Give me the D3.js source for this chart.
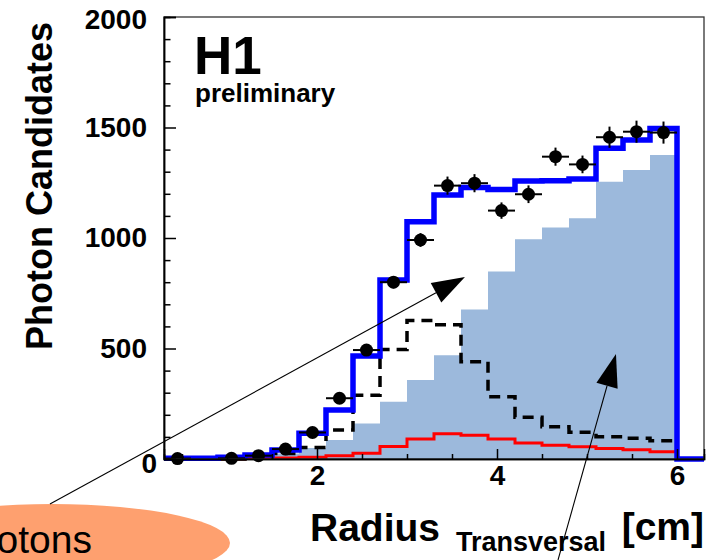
<!DOCTYPE html>
<html>
<head>
<meta charset="utf-8">
<script src="https://cdn.jsdelivr.net/npm/d3@7"></script>
<style>
  html, body { margin: 0; padding: 0; background: #fff; overflow: hidden; }
  svg { display: block; font-family: "Liberation Sans", Arial, Helvetica, sans-serif; }
</style>
</head>
<body>
<svg id="chart" width="711" height="560"></svg>
<script>
// ---- histogram binning: transverse radius [cm] ----
const binEdges = [0.3, 0.6, 0.9, 1.2, 1.5, 1.8, 2.1, 2.4, 2.7, 3.0, 3.3,
                  3.6, 3.9, 4.2, 4.5, 4.8, 5.1, 5.4, 5.7, 6.0, 6.3];

// measured photon candidates per bin (null = empty bin)
const dataCounts = [2, null, 3, 15, 45, 120, 275, 493, 800, 991, 1237,
                    1248, 1124, 1198, 1368, 1333, 1456, 1481, 1477, null];
const dataErrors = [2, null, 2, 4, 7, 11, 17, 22, 28, 31, 41,
                    41, 37, 40, 41, 40, 48, 50, 50, null];

// simulation: total (thick blue outline)
const simTotal = [3, 3, 8, 18, 41, 116, 222, 466, 810, 1074, 1195,
                  1229, 1220, 1258, 1259, 1267, 1406, 1443, 1496, 0];
// simulation component: filled light blue
const simFilled = [0, 0, 3, 10, 25, 50, 86, 161, 259, 357, 470,
                   677, 848, 994, 1048, 1089, 1255, 1308, 1376, 0];
// simulation component: dashed black
const simDashed = [0, 0, 0, 5, 25, 52, 131, 288, 495, 627, 607,
                   440, 282, 189, 146, 121, 101, 94, 83, 0];
// simulation component: red outline
const simRed = [0, 0, 0, 2, 4, 8, 15, 26, 56, 90, 114,
                107, 90, 72, 62, 55, 47, 42, 33, 0];

// axis ticks
const xTicks = [2, 4, 6];
const xMinorTicks = [0.5, 1, 1.5, 2.5, 3, 3.5, 4.5, 5, 5.5];
const yTicks = [0, 500, 1000, 1500, 2000];
const yMinorTicks = [100, 200, 300, 400, 600, 700, 800, 900, 1100, 1200,
                     1300, 1400, 1600, 1700, 1800, 1900];

// annotation arrows, given in data coordinates (tail -> tip)
const arrows = [
  { from: [-0.967, -204], to: [3.644, 824] },
  { from: [4.678, -457], to: [5.322, 475] }
];

// ---- layout ----
const frame = { left: 164, right: 704, top: 17, bottom: 459 };
const svg = d3.select("#chart");

const x = d3.scaleLinear().domain([binEdges[0], binEdges[binEdges.length - 1]])
  .range([frame.left, frame.right]);
const y = d3.scaleLinear().domain([0, 2000]).range([frame.bottom, frame.top]);

// step-histogram points: each bin starts at its low edge, last point closes at upper edge
function stepPoints(values) {
  const pts = values.map((v, i) => [binEdges[i], v]);
  pts.push([binEdges[binEdges.length - 1], values[values.length - 1]]);
  return pts;
}

const stepLine = d3.line()
  .x(d => x(d[0])).y(d => y(d[1]))
  .curve(d3.curveStepAfter);

const stepArea = d3.area()
  .x(d => x(d[0])).y0(y(0)).y1(d => y(d[1]))
  .curve(d3.curveStepAfter);

const plot = svg.append("g");

// filled component
plot.append("path")
  .attr("d", stepArea(stepPoints(simFilled)))
  .attr("fill", "#9cb9dc");

// red component
plot.append("path")
  .attr("d", stepLine(stepPoints(simRed)))
  .attr("fill", "none").attr("stroke", "#ff0000").attr("stroke-width", 3);

// dashed component
plot.append("path")
  .attr("d", stepLine(stepPoints(simDashed)))
  .attr("fill", "none").attr("stroke", "#000").attr("stroke-width", 3.5)
  .attr("stroke-dasharray", "11,7");

// total simulation
plot.append("path")
  .attr("d", stepLine(stepPoints(simTotal)))
  .attr("fill", "none").attr("stroke", "#0000ff").attr("stroke-width", 5.5)
  .attr("stroke-linejoin", "miter");

// data points with error bars
const pts = dataCounts.map((v, i) => ({
  lo: binEdges[i], hi: binEdges[i + 1], c: (binEdges[i] + binEdges[i + 1]) / 2,
  v: v, e: dataErrors[i]
})).filter(d => d.v !== null);

const dataG = plot.append("g");
dataG.selectAll("line.xerr").data(pts).join("line")
  .attr("class", "xerr")
  .attr("x1", d => x(d.lo)).attr("x2", d => x(d.hi))
  .attr("y1", d => y(d.v)).attr("y2", d => y(d.v))
  .attr("stroke", "#000").attr("stroke-width", 2);
dataG.selectAll("line.yerr").data(pts).join("line")
  .attr("class", "yerr")
  .attr("x1", d => x(d.c)).attr("x2", d => x(d.c))
  .attr("y1", d => y(d.v - d.e)).attr("y2", d => y(d.v + d.e))
  .attr("stroke", "#000").attr("stroke-width", 2);
dataG.selectAll("circle").data(pts).join("circle")
  .attr("cx", d => x(d.c)).attr("cy", d => y(d.v)).attr("r", 6.5)
  .attr("fill", "#000");

// ---- frame and axes ----
svg.append("rect")
  .attr("x", frame.left).attr("y", frame.top)
  .attr("width", frame.right - frame.left).attr("height", frame.bottom - frame.top)
  .attr("fill", "none").attr("stroke", "#333").attr("stroke-width", 1.3);

const tickFont = 28;

const yAxis = svg.append("g").attr("transform", `translate(${frame.left},0)`)
  .call(d3.axisLeft(y).tickValues(yTicks).tickSize(-12).tickPadding(17)
    .tickFormat(d3.format("d")));
const yMinor = svg.append("g").attr("transform", `translate(${frame.left},0)`)
  .call(d3.axisLeft(y).tickValues(yMinorTicks).tickSize(-6.5).tickFormat(""));

const xAxis = svg.append("g").attr("transform", `translate(0,${frame.bottom})`)
  .call(d3.axisBottom(x).tickValues(xTicks).tickSize(-10).tickPadding(6)
    .tickFormat(d3.format("d")));
const xMinor = svg.append("g").attr("transform", `translate(0,${frame.bottom})`)
  .call(d3.axisBottom(x).tickValues(xMinorTicks).tickSize(-5).tickFormat(""));

[yAxis, yMinor, xAxis, xMinor].forEach(g => {
  g.select(".domain").attr("stroke", "#000").attr("stroke-width", 1.5);
  g.selectAll(".tick line").attr("stroke", "#000").attr("stroke-width", 1.5);
  g.selectAll(".tick text")
    .attr("font-family", "Liberation Sans, Arial, Helvetica, sans-serif")
    .attr("font-size", tickFont).attr("font-weight", "bold").attr("fill", "#000");
});
yAxis.selectAll(".tick text").filter(d => d === 0).attr("dx", 10).attr("dy", "0.47em");
yAxis.selectAll(".tick text").filter(d => d === 2000).attr("dy", "0.4em");

// axis titles
svg.append("text")
  .attr("transform", "translate(52,22) rotate(-90)")
  .attr("text-anchor", "end")
  .attr("font-size", 36).attr("font-weight", "bold")
  .text("Photon Candidates");

svg.append("text").attr("x", 310).attr("y", 541)
  .attr("font-size", 39).attr("font-weight", "bold").text("Radius");
svg.append("text").attr("x", 456).attr("y", 551)
  .attr("font-size", 27).attr("font-weight", "bold").text("Transversal");
svg.append("text").attr("x", 704).attr("y", 540).attr("text-anchor", "end")
  .attr("font-size", 39).attr("font-weight", "bold").text("[cm]");

// experiment label
svg.append("text").attr("x", 194).attr("y", 74)
  .attr("font-size", 53).attr("font-weight", "bold").text("H1");
svg.append("text").attr("x", 195).attr("y", 102)
  .attr("font-size", 26).attr("font-weight", "bold").text("preliminary");

// ---- callout label and arrows ----
svg.append("ellipse")
  .attr("cx", 52).attr("cy", 543).attr("rx", 178).attr("ry", 39)
  .attr("fill", "#fea06f");
svg.append("text").attr("x", 92).attr("y", 553).attr("text-anchor", "end")
  .attr("font-size", 39).attr("fill", "#000").text("Photons");

const headLen = 33, headHalf = 11;
arrows.forEach(a => {
  const x0 = x(a.from[0]), y0 = y(a.from[1]);
  const x1 = x(a.to[0]), y1 = y(a.to[1]);
  const ang = Math.atan2(y1 - y0, x1 - x0);
  const bx = x1 - headLen * Math.cos(ang), by = y1 - headLen * Math.sin(ang);
  svg.append("line")
    .attr("x1", x0).attr("y1", y0).attr("x2", bx).attr("y2", by)
    .attr("stroke", "#000").attr("stroke-width", 1.1);
  const nx = -Math.sin(ang) * headHalf, ny = Math.cos(ang) * headHalf;
  svg.append("path")
    .attr("d", `M${x1},${y1}L${bx + nx},${by + ny}L${bx - nx},${by - ny}Z`)
    .attr("fill", "#000");
});
</script>
</body>
</html>
